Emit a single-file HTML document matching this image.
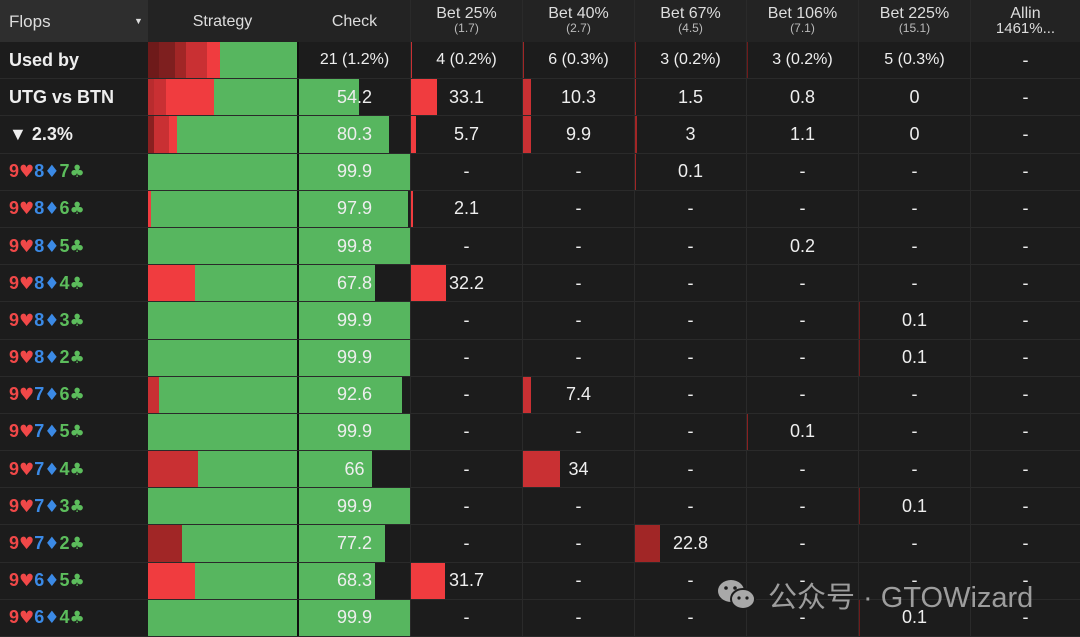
<!DOCTYPE html><html><head><meta charset="utf-8"><style>
body{margin:0;width:1080px;height:637px;background:#1c1c1c;overflow:hidden;font-family:"Liberation Sans","Noto Sans CJK SC",sans-serif;color:#eee;position:relative}
.r{display:flex;height:37.2px;border-bottom:1px solid #2a2a2a;box-sizing:border-box}
.h{height:42px;background:#232323;border:none}
.c{position:relative;width:112px;border-left:1px solid #2a2a2a;box-sizing:border-box;display:flex;align-items:center;justify-content:center;font-size:18px}
.c span{position:relative}
.c b{position:absolute;left:0;top:0;bottom:0}
.f{width:148px;border:none;justify-content:flex-start;padding-left:9px;font-weight:bold;font-size:18px}
.f u{text-decoration:none;font-family:"DejaVu Sans",sans-serif;font-size:17px}
.s{width:149px;justify-content:flex-start;border-left:none}
.s i{height:100%;display:block}
.k{width:113px;border-left:2px solid #0e0e0e}
.a{width:110px}
.h .c{font-size:16px;flex-direction:column;line-height:15px;color:#ddd}
.h .c small{font-size:12px;color:#bbb}
.h .f{flex-direction:row}
.g{background:#57b65f}
.R{color:#f04848}.B{color:#3b8ae6}.G{color:#5cbd5c}
</style></head><body>
<div class="r h"><div class="c f" style="background:#2e2e2e;font-weight:normal;font-size:17px;color:#ddd">Flops<span style="position:absolute;left:134px;top:14px;font-size:9px">▼</span></div><div class="c s" style="justify-content:center">Strategy</div><div class="c k" style="border-left:2px solid #232323">Check</div><div class="c">Bet 25%<small>(1.7)</small></div><div class="c">Bet 40%<small>(2.7)</small></div><div class="c">Bet 67%<small>(4.5)</small></div><div class="c">Bet 106%<small>(7.1)</small></div><div class="c">Bet 225%<small>(15.1)</small></div><div class="c a">Allin<small style="font-size:15px;color:#ddd">1461%...</small></div></div>

<div class="r" style="font-size:16px"><div class="c f">Used by</div><div class="c s"><i style="width:11px;background:#6e1a1a"></i><i style="width:16px;background:#7e1f1f"></i><i style="width:11px;background:#a12626"></i><i style="width:21px;background:#c93033"></i><i style="width:13px;background:#f03c3f"></i><i class="g" style="flex:1"></i></div><div class="c k" style="font-size:16px">21 (1.2%)</div><div class="c" style="font-size:16px"><b style="width:1px;background:#c93033"></b>4 (0.2%)</div><div class="c" style="font-size:16px"><b style="width:1px;background:#a12626"></b>6 (0.3%)</div><div class="c" style="font-size:16px"><b style="width:1px;background:#8a2020"></b>3 (0.2%)</div><div class="c" style="font-size:16px"><b style="width:1px;background:#701a1a"></b>3 (0.2%)</div><div class="c" style="font-size:16px">5 (0.3%)</div><div class="c a">-</div></div>

<div class="r"><div class="c f">UTG vs BTN</div><div class="c s"><i style="width:6px;background:#b82c2e"></i><i style="width:12px;background:#c93033"></i><i style="width:48px;background:#f03c3f"></i><i class="g" style="flex:1"></i></div><div class="c k"><b class="g" style="width:60px"></b><span>54.2</span></div><div class="c"><b style="width:26px;background:#f03c3f"></b><span>33.1</span></div><div class="c"><b style="width:8px;background:#c93033"></b><span>10.3</span></div><div class="c"><b style="width:1px;background:#a12626"></b><span>1.5</span></div><div class="c"><span>0.8</span></div><div class="c"><span>0</span></div><div class="c a">-</div></div>

<div class="r"><div class="c f">▼ 2.3%</div><div class="c s"><i style="width:6px;background:#8a2020"></i><i style="width:15px;background:#c93033"></i><i style="width:8px;background:#f03c3f"></i><i class="g" style="flex:1"></i></div><div class="c k"><b class="g" style="width:90px"></b><span>80.3</span></div><div class="c"><b style="width:5px;background:#f03c3f"></b><span>5.7</span></div><div class="c"><b style="width:8px;background:#c93033"></b><span>9.9</span></div><div class="c"><b style="width:2px;background:#a12626"></b><span>3</span></div><div class="c"><span>1.1</span></div><div class="c"><span>0</span></div><div class="c a">-</div></div>

<div class="r"><div class="c f"><span class="R">9<u>♥</u></span><span class="B">8<u>♦</u></span><span class="G">7<u>♣</u></span></div><div class="c s"><i class="g" style="flex:1"></i></div><div class="c k"><b class="g" style="width:111px"></b><span>99.9</span></div><div class="c">-</div><div class="c">-</div><div class="c"><b style="width:1px;background:#a12626"></b>0.1</div><div class="c">-</div><div class="c">-</div><div class="c a">-</div></div>

<div class="r"><div class="c f"><span class="R">9<u>♥</u></span><span class="B">8<u>♦</u></span><span class="G">6<u>♣</u></span></div><div class="c s"><i style="width:3px;background:#f03c3f"></i><i class="g" style="flex:1"></i></div><div class="c k"><b class="g" style="width:109px"></b><span>97.9</span></div><div class="c"><b style="width:2px;background:#f03c3f"></b>2.1</div><div class="c">-</div><div class="c">-</div><div class="c">-</div><div class="c">-</div><div class="c a">-</div></div>

<div class="r"><div class="c f"><span class="R">9<u>♥</u></span><span class="B">8<u>♦</u></span><span class="G">5<u>♣</u></span></div><div class="c s"><i class="g" style="flex:1"></i></div><div class="c k"><b class="g" style="width:111px"></b><span>99.8</span></div><div class="c">-</div><div class="c">-</div><div class="c">-</div><div class="c">0.2</div><div class="c">-</div><div class="c a">-</div></div>

<div class="r"><div class="c f"><span class="R">9<u>♥</u></span><span class="B">8<u>♦</u></span><span class="G">4<u>♣</u></span></div><div class="c s"><i style="width:47px;background:#f03c3f"></i><i class="g" style="flex:1"></i></div><div class="c k"><b class="g" style="width:76px"></b><span>67.8</span></div><div class="c"><b style="width:35px;background:#f03c3f"></b><span>32.2</span></div><div class="c">-</div><div class="c">-</div><div class="c">-</div><div class="c">-</div><div class="c a">-</div></div>

<div class="r"><div class="c f"><span class="R">9<u>♥</u></span><span class="B">8<u>♦</u></span><span class="G">3<u>♣</u></span></div><div class="c s"><i class="g" style="flex:1"></i></div><div class="c k"><b class="g" style="width:111px"></b><span>99.9</span></div><div class="c">-</div><div class="c">-</div><div class="c">-</div><div class="c">-</div><div class="c"><b style="width:1px;background:#701a1a"></b>0.1</div><div class="c a">-</div></div>

<div class="r"><div class="c f"><span class="R">9<u>♥</u></span><span class="B">8<u>♦</u></span><span class="G">2<u>♣</u></span></div><div class="c s"><i class="g" style="flex:1"></i></div><div class="c k"><b class="g" style="width:111px"></b><span>99.9</span></div><div class="c">-</div><div class="c">-</div><div class="c">-</div><div class="c">-</div><div class="c"><b style="width:1px;background:#701a1a"></b>0.1</div><div class="c a">-</div></div>

<div class="r"><div class="c f"><span class="R">9<u>♥</u></span><span class="B">7<u>♦</u></span><span class="G">6<u>♣</u></span></div><div class="c s"><i style="width:11px;background:#c93033"></i><i class="g" style="flex:1"></i></div><div class="c k"><b class="g" style="width:103px"></b><span>92.6</span></div><div class="c">-</div><div class="c"><b style="width:8px;background:#c93033"></b>7.4</div><div class="c">-</div><div class="c">-</div><div class="c">-</div><div class="c a">-</div></div>

<div class="r"><div class="c f"><span class="R">9<u>♥</u></span><span class="B">7<u>♦</u></span><span class="G">5<u>♣</u></span></div><div class="c s"><i class="g" style="flex:1"></i></div><div class="c k"><b class="g" style="width:111px"></b><span>99.9</span></div><div class="c">-</div><div class="c">-</div><div class="c">-</div><div class="c"><b style="width:1px;background:#8a2020"></b>0.1</div><div class="c">-</div><div class="c a">-</div></div>

<div class="r"><div class="c f"><span class="R">9<u>♥</u></span><span class="B">7<u>♦</u></span><span class="G">4<u>♣</u></span></div><div class="c s"><i style="width:50px;background:#c93033"></i><i class="g" style="flex:1"></i></div><div class="c k"><b class="g" style="width:73px"></b><span>66</span></div><div class="c">-</div><div class="c"><b style="width:37px;background:#c93033"></b><span>34</span></div><div class="c">-</div><div class="c">-</div><div class="c">-</div><div class="c a">-</div></div>

<div class="r"><div class="c f"><span class="R">9<u>♥</u></span><span class="B">7<u>♦</u></span><span class="G">3<u>♣</u></span></div><div class="c s"><i class="g" style="flex:1"></i></div><div class="c k"><b class="g" style="width:111px"></b><span>99.9</span></div><div class="c">-</div><div class="c">-</div><div class="c">-</div><div class="c">-</div><div class="c"><b style="width:1px;background:#701a1a"></b>0.1</div><div class="c a">-</div></div>

<div class="r"><div class="c f"><span class="R">9<u>♥</u></span><span class="B">7<u>♦</u></span><span class="G">2<u>♣</u></span></div><div class="c s"><i style="width:34px;background:#a12626"></i><i class="g" style="flex:1"></i></div><div class="c k"><b class="g" style="width:86px"></b><span>77.2</span></div><div class="c">-</div><div class="c">-</div><div class="c"><b style="width:25px;background:#a12626"></b><span>22.8</span></div><div class="c">-</div><div class="c">-</div><div class="c a">-</div></div>

<div class="r"><div class="c f"><span class="R">9<u>♥</u></span><span class="B">6<u>♦</u></span><span class="G">5<u>♣</u></span></div><div class="c s"><i style="width:47px;background:#f03c3f"></i><i class="g" style="flex:1"></i></div><div class="c k"><b class="g" style="width:76px"></b><span>68.3</span></div><div class="c"><b style="width:34px;background:#f03c3f"></b><span>31.7</span></div><div class="c">-</div><div class="c">-</div><div class="c">-</div><div class="c">-</div><div class="c a">-</div></div>

<div class="r"><div class="c f"><span class="R">9<u>♥</u></span><span class="B">6<u>♦</u></span><span class="G">4<u>♣</u></span></div><div class="c s"><i class="g" style="flex:1"></i></div><div class="c k"><b class="g" style="width:111px"></b><span>99.9</span></div><div class="c">-</div><div class="c">-</div><div class="c">-</div><div class="c">-</div><div class="c"><b style="width:1px;background:#701a1a"></b>0.1</div><div class="c a">-</div></div>

<div style="position:absolute;left:716px;top:574px;display:flex;align-items:center;color:rgba(190,190,190,0.8);font-size:29px;font-family:'Liberation Sans','Noto Sans CJK SC',sans-serif">
<svg width="42" height="34" viewBox="0 0 42 34"><ellipse cx="15" cy="13" rx="13" ry="11" fill="#a8a8a8"/><ellipse cx="27" cy="21" rx="12" ry="10" fill="#a8a8a8" stroke="#1c1c1c" stroke-width="2"/><circle cx="10" cy="10" r="1.8" fill="#1c1c1c"/><circle cx="19" cy="10" r="1.8" fill="#1c1c1c"/><circle cx="23" cy="20" r="1.6" fill="#1c1c1c"/><circle cx="31" cy="20" r="1.6" fill="#1c1c1c"/></svg>
<span style="margin-left:10px">公众号 · GTOWizard</span></div>
</body></html>
